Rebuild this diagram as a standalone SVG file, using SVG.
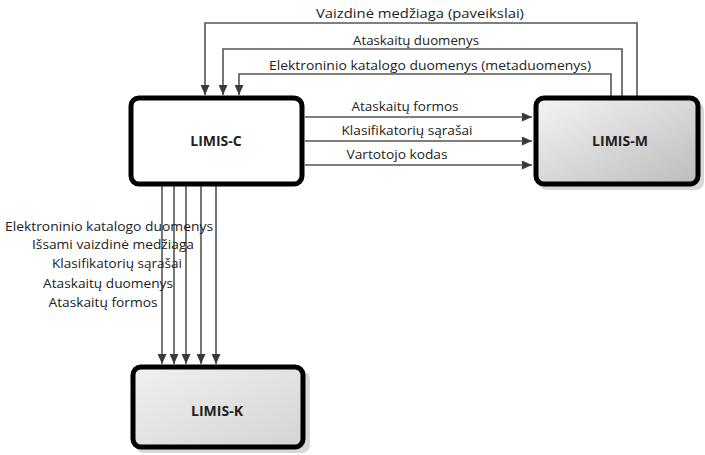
<svg xmlns="http://www.w3.org/2000/svg" width="705" height="455" viewBox="0 0 705 455">
<defs>
<marker id="arr" markerUnits="userSpaceOnUse" markerWidth="10" markerHeight="9" refX="10" refY="4.5" orient="auto">
<path d="M0,0 L10,4.5 L0,9 z" fill="#3a3a3a"/>
</marker>
<linearGradient id="gm" x1="0" y1="0" x2="1" y2="1">
<stop offset="0" stop-color="#f4f4f4"/>
<stop offset="1" stop-color="#bcbcbc"/>
</linearGradient>
<linearGradient id="gk" x1="0" y1="0" x2="1" y2="1">
<stop offset="0" stop-color="#f0f0f0"/>
<stop offset="1" stop-color="#d4d4d4"/>
</linearGradient>
<style>
.box{stroke:#000;stroke-width:5}
.shadow{fill:#d8d8d8}
.lbl{font-family:"Open Sans","Liberation Sans",sans-serif;font-size:13.5px;fill:#222}
.name{font-family:"Open Sans","Liberation Sans",sans-serif;font-size:14px;font-weight:bold;fill:#222;text-anchor:middle}
.ln{fill:none;stroke:#555;stroke-width:1.6}
</style>
</defs>
<rect width="705" height="455" fill="#fff"/>

<g id="connectors">
<path class="ln" d="M637,96 V23 H205 V95" marker-end="url(#arr)"/>
<path class="ln" d="M622,96 V49 H223 V95" marker-end="url(#arr)"/>
<path class="ln" d="M611,96 V74 H239 V95" marker-end="url(#arr)"/>
<line class="ln" x1="305" y1="117" x2="532" y2="117" marker-end="url(#arr)"/>
<line class="ln" x1="305" y1="141" x2="532" y2="141" marker-end="url(#arr)"/>
<line class="ln" x1="305" y1="165" x2="532" y2="165" marker-end="url(#arr)"/>
<line class="ln" x1="162" y1="186" x2="162" y2="364" marker-end="url(#arr)"/>
<line class="ln" x1="174" y1="186" x2="174" y2="364" marker-end="url(#arr)"/>
<line class="ln" x1="186" y1="186" x2="186" y2="364" marker-end="url(#arr)"/>
<line class="ln" x1="201" y1="186" x2="201" y2="364" marker-end="url(#arr)"/>
<line class="ln" x1="216" y1="186" x2="216" y2="364" marker-end="url(#arr)"/>
<text class="lbl" x="420" y="18" text-anchor="middle" textLength="208" lengthAdjust="spacingAndGlyphs">Vaizdinė medžiaga (paveikslai)</text>
<text class="lbl" x="416" y="45" text-anchor="middle" textLength="126" lengthAdjust="spacingAndGlyphs">Ataskaitų duomenys</text>
<text class="lbl" x="430" y="70" text-anchor="middle" textLength="322" lengthAdjust="spacingAndGlyphs">Elektroninio katalogo duomenys (metaduomenys)</text>
<text class="lbl" x="405" y="111" text-anchor="middle" textLength="107" lengthAdjust="spacingAndGlyphs">Ataskaitų formos</text>
<text class="lbl" x="407" y="135" text-anchor="middle" textLength="131" lengthAdjust="spacingAndGlyphs">Klasifikatorių sąrašai</text>
<text class="lbl" x="397" y="159" text-anchor="middle" textLength="101" lengthAdjust="spacingAndGlyphs">Vartotojo kodas</text>
<text class="lbl" x="109" y="231" text-anchor="middle" textLength="208" lengthAdjust="spacingAndGlyphs">Elektroninio katalogo duomenys</text>
<text class="lbl" x="113" y="249" text-anchor="middle" textLength="162" lengthAdjust="spacingAndGlyphs">Išsami vaizdinė medžiaga</text>
<text class="lbl" x="117" y="268" text-anchor="middle" textLength="130" lengthAdjust="spacingAndGlyphs">Klasifikatorių sąrašai</text>
<text class="lbl" x="108" y="288" text-anchor="middle" textLength="130" lengthAdjust="spacingAndGlyphs">Ataskaitų duomenys</text>
<text class="lbl" x="103" y="307" text-anchor="middle" textLength="109" lengthAdjust="spacingAndGlyphs">Ataskaitų formos</text>
</g>

<g id="limis-c">
<rect class="box" x="131" y="98" width="171" height="86" rx="8" fill="#fff"/>
<text class="name" x="216" y="146">LIMIS-C</text>
</g>

<g id="limis-m">
<rect class="shadow" x="539" y="102" width="165" height="88" rx="8"/>
<rect class="box" x="536" y="98" width="162" height="86" rx="8" fill="url(#gm)"/>
<text class="name" x="620" y="146">LIMIS-M</text>
</g>

<g id="limis-k">
<rect class="shadow" x="136" y="371" width="174" height="82" rx="8"/>
<rect class="box" x="133" y="367" width="170" height="80" rx="8" fill="url(#gk)"/>
<text class="name" x="217" y="416">LIMIS-K</text>
</g>
</svg>
